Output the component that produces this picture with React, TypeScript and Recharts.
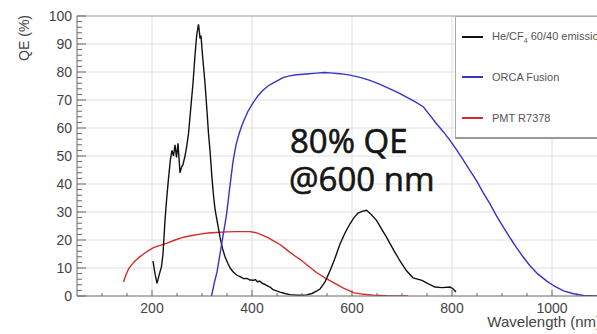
import { LineChart, Line, XAxis, YAxis, ReferenceLine, Legend } from 'recharts'

// He/CF4 60/40 emission spectrum
const emissionNm = [202, 206, 210, 215, 219, 222, 224, 226, 229, 233, 237, 240, 243, 246, 249, 252, 256, 259, 262, 266, 269, 273, 276, 279, 282, 286, 289, 291, 293, 295, 296, 298, 301, 304, 306, 310, 313, 316, 320, 323, 326, 331, 336, 341, 346, 352, 357, 363, 370, 377, 383, 390, 396, 403, 407, 411, 415, 420, 425, 429, 436, 442, 449, 456, 466, 476, 490, 500, 509, 520, 530, 536, 546, 556, 566, 576, 586, 596, 604, 612, 620, 629, 639, 649, 659, 669, 683, 696, 709, 722, 740, 752, 766, 780, 796, 802, 808]
const emissionQe = [12.5, 8, 4.5, 8, 10.5, 15, 21, 27, 34, 42, 49, 52, 50, 54, 49.5, 54.5, 44, 46, 47, 50, 53, 58, 64, 70, 76, 86, 92.5, 95, 97, 94, 92, 93, 86, 80, 76, 66, 58, 52, 42, 36, 31, 26, 21, 17, 14, 11.5, 9.8, 8.5, 7.4, 6.8, 6.2, 6.3, 5.7, 5.6, 5.9, 5, 5.3, 4.6, 4.2, 3.8, 3.2, 2.3, 1.8, 1.4, 0.9, 0.5, 0.3, 0.3, 0.4, 0.9, 1.8, 2.5, 5, 9, 13.5, 18.6, 22.5, 25.8, 28, 29.6, 30.2, 30.6, 29, 27, 24, 21, 16.5, 12.5, 9, 6.5, 5.6, 4.4, 3.2, 3, 3.2, 2.6, 1.4]

// ORCA Fusion QE
const orcaNm = [319, 325, 330, 336, 342, 349, 355, 362, 368, 375, 382, 392, 402, 412, 422, 432, 442, 452, 462, 475, 489, 509, 529, 545, 556, 576, 596, 616, 636, 656, 676, 692, 709, 726, 743, 756, 769, 783, 796, 810, 823, 836, 849, 862, 876, 889, 903, 916, 929, 942, 956, 972, 989, 1006, 1023, 1043, 1063, 1090, 1100]
const orcaQe = [0, 5, 8.5, 15, 21.5, 29, 38, 48, 54, 58.5, 62, 66, 69, 71.5, 73.5, 75, 76, 77, 78, 78.6, 79, 79.3, 79.6, 79.8, 79.7, 79.4, 78.9, 78.1, 77, 75.6, 74, 72.6, 71, 69.4, 67.5, 64.5, 61.5, 58.6, 55.6, 52, 48.4, 44.8, 41.2, 37, 32.9, 28.6, 24.5, 20.8, 17.3, 14, 10.8, 7.8, 5.4, 3.4, 1.8, 0.8, 0.2, 0, 0]

// PMT R7378 QE
const pmtNm = [143, 148, 153, 160, 166, 175, 183, 193, 203, 216, 229, 246, 263, 280, 296, 312, 329, 349, 369, 383, 396, 406, 416, 430, 443, 456, 466, 476, 486, 496, 512, 529, 546, 563, 583, 603, 623, 643, 670, 712]
const pmtQe = [5, 7.6, 9.6, 11.3, 12.5, 13.9, 15, 16.2, 17.3, 18.1, 18.8, 20, 21, 21.6, 22.1, 22.5, 22.7, 22.9, 23, 23, 23, 22.7, 22.1, 21, 19.7, 18.4, 17, 15.6, 14.3, 13.1, 10.8, 8.4, 6.5, 4.8, 2.8, 1.2, 0.6, 0.3, 0.1, 0]

const xTicks = [100, 150, 200, 250, 300, 350, 400, 450, 500, 550, 600, 650, 700, 750, 800, 850, 900, 950, 1000, 1050]
const xLabels = [200, 400, 600, 800, 1000]
const yTicks = [0, 2, 4, 6, 8, 10, 12, 14, 16, 18, 20, 22, 24, 26, 28, 30, 32, 34, 36, 38, 40, 42, 44, 46, 48, 50, 52, 54, 56, 58, 60, 62, 64, 66, 68, 70, 72, 74, 76, 78, 80, 82, 84, 86, 88, 90, 92, 94, 96, 98, 100]
const yLabels = [0, 10, 20, 30, 40, 50, 60, 70, 80, 90, 100]
const yGrid = [10, 20, 30, 40, 50, 60, 70, 80, 90]

const seriesNames = ['He/CF', 'ORCA Fusion', 'PMT R7378']
const seriesColors = ['#111111', '#3434c8', '#d42a2a']

const zip = (xs: number[], ys: number[]) => xs.map((nm, i) => ({ nm, qe: ys[i] }))
const emission = zip(emissionNm, emissionQe)
const orca = zip(orcaNm, orcaQe)
const pmt = zip(pmtNm, pmtQe)

const FONT = '"Liberation Sans", Arial, sans-serif'

const XTick = ({ x, y, payload }: any) => {
  const v = payload.value
  const major = xLabels.includes(v)
  return (
    <g>
      <line x1={x} x2={x} y1={y} y2={y - (major ? 6 : 3)} stroke="#666" />
      {major && (
        <text x={x} y={y + 17} textAnchor="middle" fontSize={14} fill="#444" fontFamily={FONT}>
          {v}
        </text>
      )}
    </g>
  )
}

const YTick = ({ x, y, payload }: any) => {
  const v = payload.value
  const major = yLabels.includes(v)
  return (
    <g>
      <line x1={x} x2={x + (major ? 9 : 5)} y1={y} y2={y} stroke="#666" />
      {major && (
        <text x={x - 5} y={y + 5} textAnchor="end" fontSize={14} fill="#444" fontFamily={FONT}>
          {v}
        </text>
      )}
    </g>
  )
}

const LegendBox = () => (
  <div
    style={{
      position: 'relative',
      width: 160,
      height: 120,
      background: '#fff',
      border: '1px solid #aaa',
      borderBottom: '2px solid #999',
      fontFamily: FONT,
      fontSize: 11,
      color: '#555',
    }}
  >
    {seriesNames.map((name, i) => (
      <div key={name} style={{ position: 'absolute', left: 6, top: 13 + i * 41, display: 'flex', alignItems: 'center', whiteSpace: 'nowrap' }}>
        <div style={{ width: 21, height: 2, background: seriesColors[i], marginRight: 9 }} />
        <span>
          {name}
          {i === 0 && (
            <>
              <sub style={{ fontSize: 7 }}>4</sub> 60/40 emission
            </>
          )}
        </span>
      </div>
    ))}
  </div>
)

export default function App() {
  return (
    <div style={{ position: 'absolute', left: 0, top: 0, width: 597, height: 334, overflow: 'hidden', background: '#fff' }}>
      <LineChart width={610} height={334} margin={{ top: 16, right: 8, bottom: 0, left: 0 }}>
        {yGrid.map((v) => (
          <ReferenceLine key={`gy${v}`} y={v} stroke="#dedede" />
        ))}
        {xLabels.map((v) => (
          <ReferenceLine key={`gx${v}`} x={v} stroke="#dedede" />
        ))}
        <ReferenceLine y={100} stroke="#999" />
        <XAxis
          type="number"
          dataKey="nm"
          domain={[50, 1100]}
          ticks={xTicks}
          interval={0}
          allowDataOverflow
          height={38}
          tickSize={0}
          tickMargin={0}
          stroke="#666"
          tick={<XTick />}
        />
        <YAxis
          type="number"
          dataKey="qe"
          domain={[0, 100]}
          ticks={yTicks}
          interval={0}
          allowDataOverflow
          width={77}
          tickSize={0}
          tickMargin={0}
          stroke="#666"
          tick={<YTick />}
        />
        <Line data={pmt} dataKey="qe" name="PMT R7378" stroke={seriesColors[2]} strokeWidth={1.4} dot={false} isAnimationActive={false} />
        <Line data={emission} dataKey="qe" name="He/CF4 60/40 emission" stroke={seriesColors[0]} strokeWidth={1.4} dot={false} isAnimationActive={false} />
        <Line data={orca} dataKey="qe" name="ORCA Fusion" stroke={seriesColors[1]} strokeWidth={1.4} dot={false} isAnimationActive={false} />
        <Legend
          layout="vertical"
          align="center"
          verticalAlign="middle"
          wrapperStyle={{ left: 455, top: 16, width: 160, height: 122 }}
          content={() => <LegendBox />}
        />
      </LineChart>
      <svg width={597} height={334} style={{ position: 'absolute', left: 0, top: 0, pointerEvents: 'none' }}>
        <text x={29} y={15} transform="rotate(-90 29 15)" textAnchor="end" fontSize={14} fill="#444" fontFamily={FONT}>
          QE (%)
        </text>
        <text x={601} y={327} textAnchor="end" fontSize={15} fill="#444" fontFamily={FONT}>
          Wavelength (nm)
        </text>
        <g fontSize={33} fill="#151515" stroke="#151515" strokeWidth={0.6} fontFamily='"Open Sans", sans-serif'>
          <text x={290} y={153}>80% QE</text>
          <text x={289} y={191}>@600 nm</text>
        </g>
      </svg>
    </div>
  )
}
